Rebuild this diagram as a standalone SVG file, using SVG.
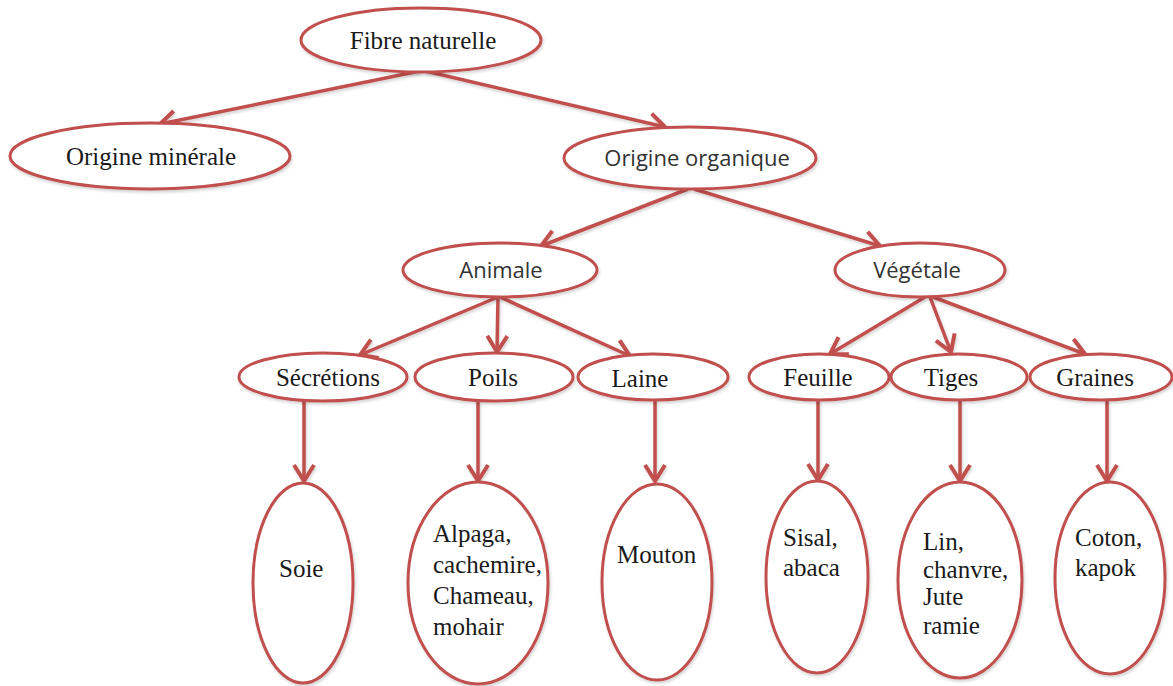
<svg xmlns="http://www.w3.org/2000/svg" width="1173" height="686" viewBox="0 0 1173 686">
<defs>
<marker id="arr" markerWidth="26" markerHeight="26" viewBox="-20 -13 24 26" refX="0" refY="0" orient="auto" markerUnits="userSpaceOnUse">
<path d="M-16,-10 L0,0 L-16,10" fill="none" stroke="#c0504d" stroke-width="4"/>
</marker>
<filter id="sh" filterUnits="userSpaceOnUse" x="0" y="0" width="1173" height="686">
<feDropShadow dx="1" dy="2" stdDeviation="1.5" flood-color="#000" flood-opacity="0.18"/>
</filter>
</defs>
<style>
.n ellipse{fill:#fff;stroke:#c0504d;stroke-width:3;filter:url(#sh)}
.s{font-family:"Liberation Serif","Times New Roman",serif;font-size:25px;fill:#1a1a1a}
.b{font-family:"Open Sans","Noto Sans",sans-serif;font-size:22px;fill:#333}
.c{text-anchor:middle}
#edges{filter:url(#sh)}
#edges line{stroke:#c0504d;stroke-width:3.5;marker-end:url(#arr)}
</style>
<rect width="1173" height="686" fill="#fff"/>
<g id="edges">
<line x1="420" y1="71" x2="160" y2="124"/>
<line x1="425" y1="71" x2="665" y2="127"/>
<line x1="688" y1="189" x2="541" y2="246"/>
<line x1="694" y1="189" x2="880" y2="246"/>
<line x1="498" y1="297" x2="360" y2="355"/>
<line x1="498" y1="297" x2="497" y2="352"/>
<line x1="500" y1="297" x2="630" y2="356"/>
<line x1="925" y1="297" x2="830" y2="354"/>
<line x1="930" y1="297" x2="951" y2="352"/>
<line x1="933" y1="297" x2="1085" y2="354"/>
<line x1="304" y1="401" x2="304" y2="481"/>
<line x1="478" y1="401" x2="478" y2="481"/>
<line x1="655" y1="400" x2="655" y2="481"/>
<line x1="818" y1="400" x2="818" y2="480"/>
<line x1="960" y1="400" x2="960" y2="481"/>
<line x1="1107" y1="400" x2="1107" y2="481"/>
</g>
<g id="fibre" class="n"><ellipse cx="421" cy="40" rx="120" ry="32"/><text class="s c" x="423" y="49" font-size="26">Fibre naturelle</text></g>
<g id="minerale" class="n"><ellipse cx="150" cy="156" rx="140" ry="33"/><text class="s c" x="151" y="165" font-size="26">Origine minérale</text></g>
<g id="organique" class="n"><ellipse cx="690" cy="158" rx="126" ry="31"/><text class="b c" x="697" y="166">Origine organique</text></g>
<g id="animale" class="n"><ellipse cx="500" cy="270" rx="97" ry="27"/><text class="b c" x="501" y="278">Animale</text></g>
<g id="vegetale" class="n"><ellipse cx="920" cy="270" rx="85" ry="27"/><text class="b c" x="917" y="278">Végétale</text></g>
<g id="secretions" class="n"><ellipse cx="323" cy="377" rx="84" ry="24"/><text class="s c" x="328" y="386">Sécrétions</text></g>
<g id="poils" class="n"><ellipse cx="494" cy="377" rx="79" ry="24"/><text class="s c" x="493" y="386">Poils</text></g>
<g id="laine" class="n"><ellipse cx="653" cy="377" rx="75" ry="23"/><text class="s c" x="640" y="387">Laine</text></g>
<g id="feuille" class="n"><ellipse cx="819" cy="377" rx="70" ry="23"/><text class="s c" x="818" y="386">Feuille</text></g>
<g id="tiges" class="n"><ellipse cx="959" cy="377" rx="68" ry="23"/><text class="s c" x="951" y="386">Tiges</text></g>
<g id="graines" class="n"><ellipse cx="1101" cy="377" rx="71" ry="23"/><text class="s c" x="1095" y="386">Graines</text></g>
<g id="soie" class="n"><ellipse cx="303" cy="583" rx="50" ry="100"/><text class="s" x="279" y="577" font-size="24">Soie</text></g>
<g id="alpaga" class="n"><ellipse cx="478" cy="583" rx="70" ry="101"/><text class="s" x="433" font-size="24"><tspan x="433" y="542">Alpaga,</tspan><tspan x="433" y="573">cachemire,</tspan><tspan x="433" y="604">Chameau,</tspan><tspan x="433" y="635">mohair</tspan></text></g>
<g id="mouton" class="n"><ellipse cx="657" cy="582" rx="55" ry="98"/><text class="s" x="617" y="563" font-size="24">Mouton</text></g>
<g id="sisal" class="n"><ellipse cx="817" cy="577" rx="51" ry="96"/><text class="s" font-size="24"><tspan x="783" y="546">Sisal,</tspan><tspan x="783" y="576">abaca</tspan></text></g>
<g id="lin" class="n"><ellipse cx="960" cy="580" rx="62" ry="98"/><text class="s" font-size="24"><tspan x="923" y="550">Lin,</tspan><tspan x="923" y="578">chanvre,</tspan><tspan x="923" y="605">Jute</tspan><tspan x="923" y="634">ramie</tspan></text></g>
<g id="coton" class="n"><ellipse cx="1110" cy="578" rx="55" ry="96"/><text class="s" font-size="24"><tspan x="1075" y="546">Coton,</tspan><tspan x="1075" y="576">kapok</tspan></text></g>
</svg>
